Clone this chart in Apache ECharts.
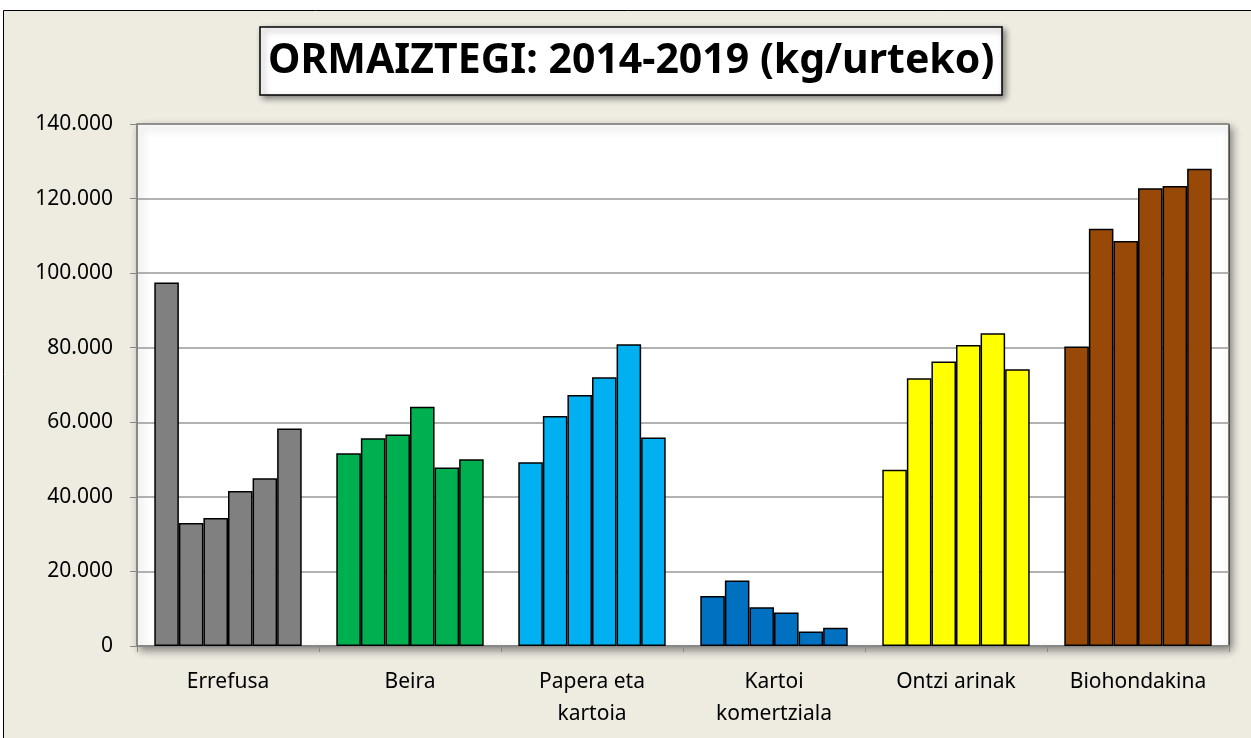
<!DOCTYPE html>
<html>
<head>
    <meta charset="utf-8"/>
    <title>ORMAIZTEGI 2014-2019</title>
    <script type="text/javascript" src="https://cdn.jsdelivr.net/npm/echarts@6/dist/echarts.min.js"></script>
    <style>
        html, body { margin: 0; padding: 0; background: #ffffff; }
    </style>
</head>
<body>
<div id="main" style="width: 1251px;height:738px;"></div>
<script type="text/javascript">
    // kategoriak eta urteak
    var categories = ['Errefusa', 'Beira', 'Papera eta\nkartoia', 'Kartoi\nkomertziala', 'Ontzi arinak', 'Biohondakina'];
    var years = ['2014', '2015', '2016', '2017', '2018', '2019'];
    var colors = ['#808080', '#00B050', '#00B0F0', '#0070C0', '#FFFF00', '#984807'];
    var yTicks = [0, 20000, 40000, 60000, 80000, 100000, 120000, 140000];

    // kg/urteko, kategoria bakoitzeko (2014..2019)
    var errefusa = [97500, 33000, 34300, 41600, 45000, 58300];
    var beira = [51700, 55700, 56700, 64200, 47900, 50100];
    var papera = [49300, 61700, 67300, 72100, 80900, 55900];
    var kartoiKom = [13400, 17600, 10400, 9000, 3900, 4900];
    var ontziArinak = [47300, 71800, 76300, 80700, 83900, 74200];
    var biohondakina = [80300, 111900, 108600, 122800, 123400, 128000];

    var byCategory = [errefusa, beira, papera, kartoiKom, ontziArinak, biohondakina];

    function fmt(v) {
        return String(v).replace(/\B(?=(\d{3})+(?!\d))/g, '.');
    }

    var series = [];
    for (var y = 0; y < years.length; y++) {
        var data = [];
        for (var c = 0; c < categories.length; c++) {
            data.push({
                value: byCategory[c][y],
                itemStyle: {color: colors[c]}
            });
        }
        series.push({
            name: years[y],
            type: 'bar',
            barGap: '0%',
            barCategoryGap: '19%',
            itemStyle: {borderColor: '#000', borderWidth: 1.5},
            data: data
        });
    }

    var myChart = echarts.init(document.getElementById('main'));
    var option = {
        backgroundColor: '#ffffff',
        animation: false,
        graphic: [{
            type: 'rect',
            z: -10,
            silent: true,
            shape: {x: 3.5, y: 10.5, width: 1260, height: 740},
            style: {fill: '#EEECE1', stroke: '#000', lineWidth: 1}
        }],
        title: {
            text: 'ORMAIZTEGI: 2014-2019 (kg/urteko)',
            left: 260,
            top: 27,
            padding: [9, 8, 9, 8],
            backgroundColor: '#ffffff',
            borderColor: '#000',
            borderWidth: 1.5,
            shadowColor: 'rgba(0,0,0,0.45)',
            shadowBlur: 6,
            shadowOffsetX: 3,
            shadowOffsetY: 3,
            textStyle: {
                fontFamily: 'Noto Sans',
                fontWeight: 'bold',
                fontSize: 41,
                color: '#000',
                lineHeight: 50
            }
        },
        grid: {
            left: 137,
            right: 22,
            top: 124,
            bottom: 92,
            show: true,
            backgroundColor: '#ffffff',
            borderColor: '#000',
            borderWidth: 1,
            shadowColor: 'rgba(0,0,0,0.45)',
            shadowBlur: 8,
            shadowOffsetX: 3,
            shadowOffsetY: 4
        },
        xAxis: {
            type: 'category',
            data: categories,
            axisLine: {lineStyle: {color: '#888', width: 2}},
            axisTick: {show: true, length: 6, lineStyle: {color: '#888'}},
            axisLabel: {
                color: '#000',
                fontFamily: 'Noto Sans',
                fontSize: 21,
                lineHeight: 32,
                margin: 20
            }
        },
        yAxis: {
            type: 'value',
            min: yTicks[0],
            max: yTicks[yTicks.length - 1],
            interval: 20000,
            axisLine: {show: true, lineStyle: {color: '#888', width: 2}},
            axisTick: {show: true, length: 7, lineStyle: {color: '#888'}},
            splitLine: {lineStyle: {color: '#999', width: 1.5}},
            axisLabel: {
                color: '#000',
                fontFamily: 'Noto Sans',
                fontSize: 21,
                margin: 24,
                formatter: fmt
            }
        },
        series: series
    };
    myChart.setOption(option);
</script>
</body>
</html>
